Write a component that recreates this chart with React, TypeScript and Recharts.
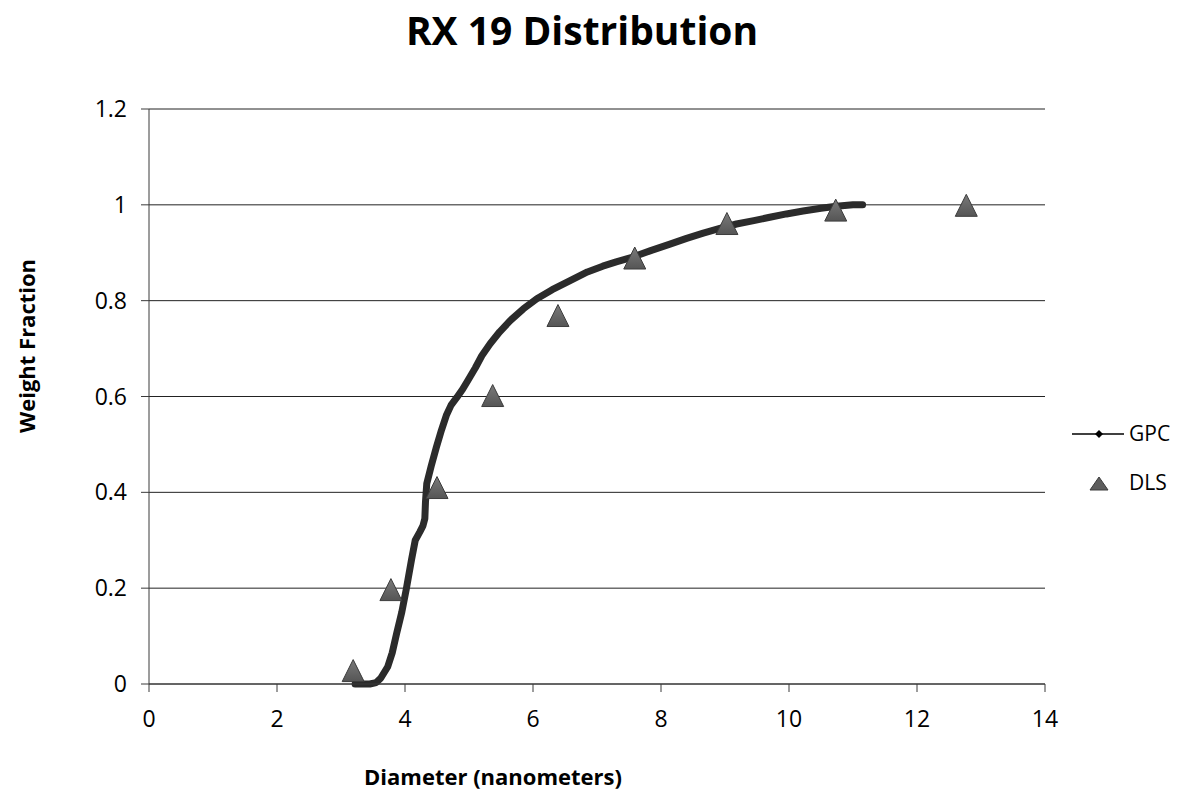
import React from "react";
import {
  ComposedChart,
  Line,
  Scatter,
  XAxis,
  YAxis,
  CartesianGrid,
} from "recharts";

// GPC cumulative distribution (diameter nm, weight fraction)
const gpcDiameter = [
  3.22, 3.45, 3.55, 3.62, 3.68, 3.73, 3.8, 3.87, 3.95, 4.02, 4.1, 4.16, 4.23,
  4.28, 4.31, 4.32, 4.34, 4.41, 4.49, 4.57, 4.65, 4.72, 4.81, 4.9, 4.98, 5.1,
  5.2, 5.33, 5.48, 5.64, 5.85, 6.06, 6.3, 6.58, 6.85, 7.09, 7.3, 7.56, 7.85,
  8.14, 8.4, 8.66, 8.92, 9.18, 9.45, 9.7, 9.96, 10.22, 10.5, 10.74, 11.0, 11.15,
];
const gpcFraction = [
  0, 0, 0.003, 0.012, 0.025, 0.036, 0.065, 0.106, 0.15, 0.198, 0.258, 0.3,
  0.317, 0.33, 0.345, 0.38, 0.418, 0.455, 0.494, 0.53, 0.562, 0.582, 0.598,
  0.615, 0.633, 0.66, 0.685, 0.71, 0.735, 0.758, 0.783, 0.804, 0.823, 0.842,
  0.86, 0.872, 0.881, 0.891, 0.905, 0.918, 0.93, 0.941, 0.951, 0.96, 0.967,
  0.974, 0.981, 0.987, 0.993, 0.997, 1.0, 1.0,
];

// DLS measurements
const dlsDiameter = [3.19, 3.78, 4.5, 5.37, 6.39, 7.59, 9.03, 10.73, 12.77];
const dlsFraction = [0.028, 0.197, 0.41, 0.602, 0.769, 0.889, 0.961, 0.989, 0.999];

const seriesNames = ["GPC", "DLS"];
const xTicks = [0, 2, 4, 6, 8, 10, 12, 14];
const yTicks = [0, 0.2, 0.4, 0.6, 0.8, 1, 1.2];
const yTickLabels = ["0", "0.2", "0.4", "0.6", "0.8", "1", "1.2"];

const gpcData = gpcDiameter.map((x, i) => ({ x, y: gpcFraction[i] }));
const dlsData = dlsDiameter.map((x, i) => ({ x, y: dlsFraction[i] }));

const FONT = "'Open Sans', 'DejaVu Sans', sans-serif";

const Triangle = (props: any) => {
  const { cx, cy } = props;
  if (cx == null || cy == null) return null;
  const h = 11;
  const w = 11;
  return (
    <path
      d={`M${cx},${cy - h} L${cx + w},${cy + h} L${cx - w},${cy + h} Z`}
      fill="url(#triFill)"
      stroke="#3c3c3c"
      strokeWidth={1}
    />
  );
};

const LegendBox = () => (
  <svg
    width={112}
    height={90}
    style={{ position: "absolute", left: 1066, top: 415, overflow: "visible" }}
  >
    <line x1={6} y1={19} x2={58} y2={19} stroke="#000" strokeWidth={1.5} />
    <path d="M33,15 L37,19 L33,23 L29,19 Z" fill="#000" />
    <text x={63} y={19} dy="0.35em" fontFamily={FONT} fontSize={21} fill="#000">
      {seriesNames[0]}
    </text>
    <path d="M33,62 L42,75 L24,75 Z" fill="#5e5e5e" stroke="#3c3c3c" strokeWidth={1} />
    <text x={63} y={68} dy="0.35em" fontFamily={FONT} fontSize={21} fill="#000">
      {seriesNames[1]}
    </text>
  </svg>
);

export default function App() {
  return (
    <div
      style={{
        position: "absolute",
        left: 0,
        top: 0,
        width: 1177,
        height: 791,
        background: "#fff",
        fontFamily: FONT,
      }}
    >
      <ComposedChart
        width={1177}
        height={791}
        margin={{ top: 109, right: 132, bottom: 57, left: 49 }}
        style={{ position: "absolute", left: 0, top: 0 }}
      >
        <defs>
          <linearGradient id="triFill" x1="0" y1="0" x2="0" y2="1">
            <stop offset="0%" stopColor="#7a7a7a" />
            <stop offset="100%" stopColor="#555555" />
          </linearGradient>
        </defs>
        <CartesianGrid horizontal vertical={false} stroke="#222" strokeWidth={1} />
        <XAxis
          type="number"
          dataKey="x"
          domain={[0, 14]}
          ticks={xTicks}
          allowDataOverflow
          height={50}
          tickSize={8}
          tickMargin={19}
          stroke="#3a3a3a"
          tick={{ fill: "#000", fontSize: 23, fontFamily: FONT }}
          interval={0}
        />
        <YAxis
          type="number"
          dataKey="y"
          domain={[0, 1.2]}
          ticks={yTicks}
          width={100}
          tickSize={8}
          tickMargin={14}
          stroke="#3a3a3a"
          interval={0}
          tickFormatter={(v: number) => yTickLabels[yTicks.indexOf(v)] ?? String(v)}
          tick={{ fill: "#000", fontSize: 23, fontFamily: FONT }}
        />
        <Line
          data={gpcData}
          dataKey="y"
          name={seriesNames[0]}
          type="linear"
          stroke="#2b2b2b"
          strokeWidth={7}
          strokeLinecap="round"
          strokeLinejoin="round"
          dot={false}
          activeDot={false}
          isAnimationActive={false}
        />
        <Scatter
          data={dlsData}
          dataKey="y"
          name={seriesNames[1]}
          shape={Triangle}
          isAnimationActive={false}
        />
      </ComposedChart>
      <div
        style={{
          position: "absolute",
          left: 582,
          top: 5,
          transform: "translateX(-50%)",
          fontSize: 39,
          fontWeight: 700,
          whiteSpace: "nowrap",
          color: "#000",
          lineHeight: "50px",
        }}
      >
        RX 19 Distribution
      </div>
      <div
        style={{
          position: "absolute",
          left: 493,
          top: 762,
          transform: "translateX(-50%)",
          fontSize: 22,
          fontWeight: 700,
          whiteSpace: "nowrap",
          color: "#000",
          lineHeight: "28px",
        }}
      >
        Diameter (nanometers)
      </div>
      <div
        style={{
          position: "absolute",
          left: 26,
          top: 346,
          transform: "translate(-50%, -50%) rotate(-90deg)",
          fontSize: 22,
          fontWeight: 700,
          whiteSpace: "nowrap",
          color: "#000",
          lineHeight: "28px",
        }}
      >
        Weight Fraction
      </div>
      <LegendBox />
    </div>
  );
}
